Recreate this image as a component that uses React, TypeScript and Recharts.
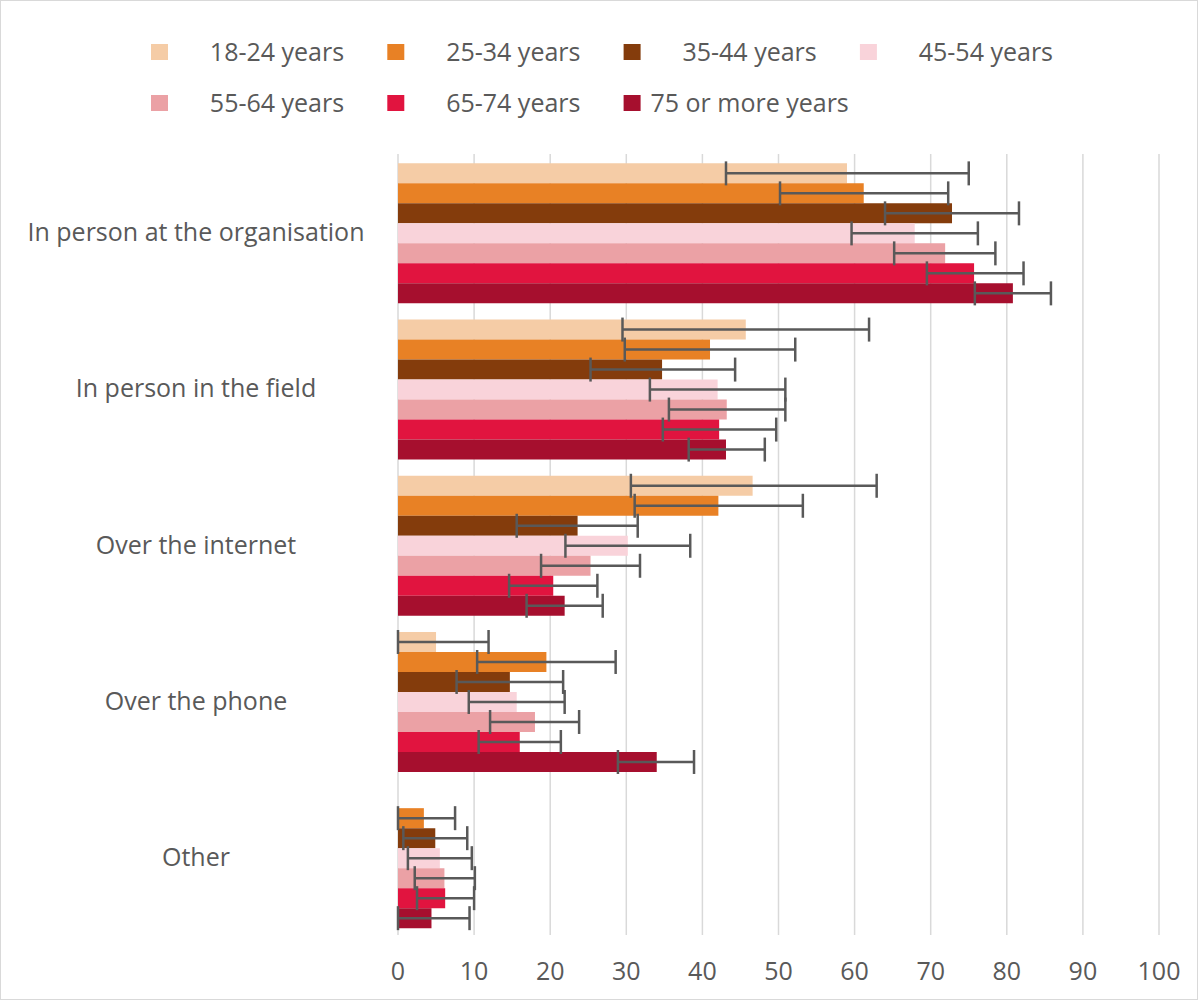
import React from "react";
import { BarChart, Bar, XAxis, YAxis, CartesianGrid, ErrorBar } from "recharts";

const categories = [
  "In person at the organisation",
  "In person in the field",
  "Over the internet",
  "Over the phone",
  "Other",
];

const seriesNames = [
  "18-24 years",
  "25-34 years",
  "35-44 years",
  "45-54 years",
  "55-64 years",
  "65-74 years",
  "75 or more years",
];

const colors = ["#F5CCA6", "#E88125", "#843C0C", "#F9D3DA", "#EBA1A5", "#E1143F", "#A60F2E"];

// values, lower and upper bounds, one entry per category
const v1824 = [59.0, 45.7, 46.6, 5.0, null];
const lo1824 = [43.1, 29.5, 30.6, 0, null];
const hi1824 = [75.0, 61.9, 62.9, 11.9, null];

const v2534 = [61.2, 41.0, 42.1, 19.5, 3.4];
const lo2534 = [50.2, 29.8, 31.1, 10.4, 0];
const hi2534 = [72.3, 52.2, 53.2, 28.6, 7.5];

const v3544 = [72.8, 34.7, 23.6, 14.7, 4.9];
const lo3544 = [64.0, 25.3, 15.6, 7.7, 0.7];
const hi3544 = [81.6, 44.3, 31.5, 21.7, 9.1];

const v4554 = [67.9, 42.0, 30.2, 15.6, 5.5];
const lo4554 = [59.6, 33.1, 22.0, 9.3, 1.3];
const hi4554 = [76.2, 50.9, 38.4, 21.9, 9.7];

const v5564 = [71.9, 43.2, 25.3, 18.0, 6.1];
const lo5564 = [65.2, 35.6, 18.8, 12.1, 2.2];
const hi5564 = [78.5, 50.9, 31.8, 23.8, 10.1];

const v6574 = [75.7, 42.2, 20.4, 16.0, 6.2];
const lo6574 = [69.5, 34.8, 14.6, 10.6, 2.5];
const hi6574 = [82.2, 49.7, 26.2, 21.4, 10.0];

const v75 = [80.8, 43.1, 21.9, 34.0, 4.4];
const lo75 = [75.8, 38.2, 16.9, 28.9, 0];
const hi75 = [85.8, 48.2, 26.9, 38.9, 9.4];

const xTicks = [0, 10, 20, 30, 40, 50, 60, 70, 80, 90, 100];

const values = [v1824, v2534, v3544, v4554, v5564, v6574, v75];
const lows = [lo1824, lo2534, lo3544, lo4554, lo5564, lo6574, lo75];
const highs = [hi1824, hi2534, hi3544, hi4554, hi5564, hi6574, hi75];

const data = categories.map((name, i) => {
  const row: Record<string, any> = { name };
  values.forEach((vals, s) => {
    const v = vals[i];
    row["s" + s] = v;
    row["e" + s] = v == null ? null : [v - (lows[s][i] as number), (highs[s][i] as number) - v];
  });
  return row;
});

const FONT = "'Open Sans', Lato, sans-serif";
const TEXT = "#595959";

const CategoryTick = (props: any) => {
  const { y, payload } = props;
  return (
    <text x={196} y={y} dy={9} textAnchor="middle" fill={TEXT} fontSize={25} fontFamily={FONT}>
      {payload.value}
    </text>
  );
};

const LegendBlock = () => (
  <svg width={1198} height={130} style={{ position: "absolute", left: 0, top: 0 }}>
    {seriesNames.map((s, i) => {
      const col = i % 4;
      const row = Math.floor(i / 4);
      const x = 150 + col * 236.3;
      const cy = 51 + row * 51;
      return (
        <g key={s}>
          <rect x={x} y={cy - 8} width={17} height={16} fill={colors[i]} />
          <text x={x + 126} y={cy + 9} textAnchor="middle" fill={TEXT} fontSize={25} fontFamily={FONT}>
            {s}
          </text>
        </g>
      );
    })}
  </svg>
);

const App = () => (
  <div
    style={{
      position: "absolute",
      left: 0,
      top: 0,
      width: 1198,
      height: 1000,
      boxSizing: "border-box",
      border: "1px solid #d9d9d9",
      background: "#fff",
    }}
  >
    <LegendBlock />
    <div style={{ position: "absolute", left: -1, top: -1 }}>
      <BarChart
        width={1198}
        height={1000}
        data={data}
        layout="vertical"
        margin={{ top: 154, right: 39, bottom: 15, left: 0 }}
        barCategoryGap="6%"
        barGap={0}
      >
        <CartesianGrid horizontal={false} stroke="#d9d9d9" strokeWidth={1.5} />
        <XAxis
          type="number"
          domain={[0, 100]}
          ticks={xTicks}
          axisLine={false}
          tickLine={false}
          tickSize={0}
          tickMargin={27}
          height={50}
          tick={{ fill: TEXT, fontSize: 25, fontFamily: FONT }}
        />
        <YAxis
          type="category"
          dataKey="name"
          width={398}
          axisLine={false}
          tickLine={false}
          tick={<CategoryTick />}
        />
        {seriesNames.map((s, i) => (
          <Bar key={s} dataKey={"s" + i} name={s} fill={colors[i]} isAnimationActive={false}>
            <ErrorBar dataKey={"e" + i} direction="x" width={12} stroke="#595959" strokeWidth={2.5} />
          </Bar>
        ))}
      </BarChart>
    </div>
  </div>
);

export default App;
